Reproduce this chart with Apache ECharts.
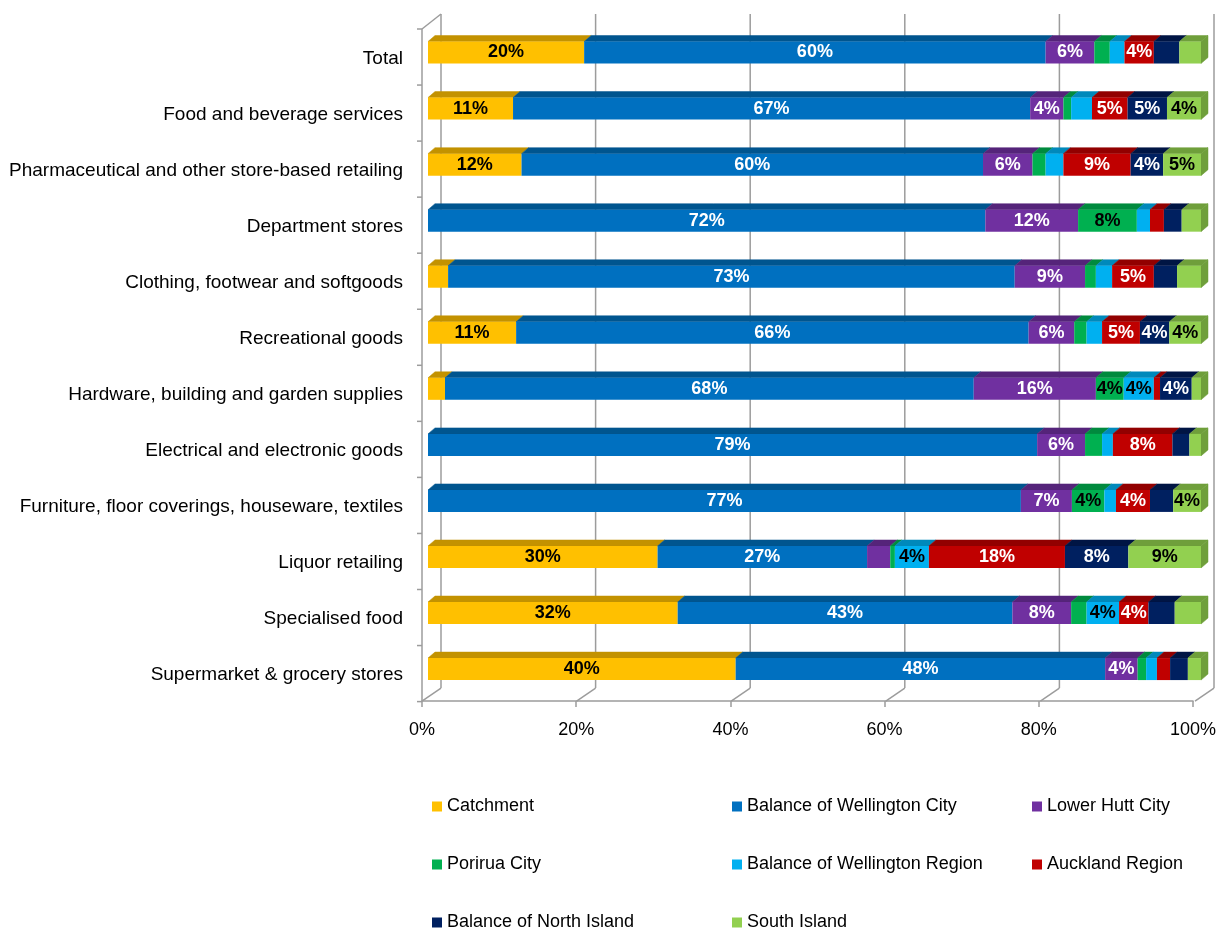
<!DOCTYPE html>
<html><head><meta charset="utf-8">
<script src="https://cdn.jsdelivr.net/npm/echarts@6/dist/echarts.min.js"></script>
<style>html,body{margin:0;padding:0;background:#fff}#c{width:1219px;height:931px}</style>
</head><body><div id="c"></div>
<script>
// ---- data ----
const categories = [
  'Total',
  'Food and beverage services',
  'Pharmaceutical and other store-based retailing',
  'Department stores',
  'Clothing, footwear and softgoods',
  'Recreational goods',
  'Hardware, building and garden supplies',
  'Electrical and electronic goods',
  'Furniture, floor coverings, houseware, textiles',
  'Liquor retailing',
  'Specialised food',
  'Supermarket & grocery stores'
];
const seriesNames = ['Catchment','Balance of Wellington City','Lower Hutt City','Porirua City',
  'Balance of Wellington Region','Auckland Region','Balance of North Island','South Island'];
const catchment        = [20.2, 11.0, 12.1,  0.0,  2.6, 11.4,  2.2,  0.0,  0.0, 29.7, 32.3, 39.8];
const wellingtonCity   = [59.7, 66.9, 59.7, 72.1, 73.3, 66.3, 68.4, 78.8, 76.7, 27.1, 43.3, 47.8];
const lowerHutt        = [ 6.3,  4.3,  6.4, 12.0,  9.1,  5.9, 15.8,  6.2,  6.6,  3.0,  7.6,  4.2];
const porirua          = [ 2.0,  1.0,  1.7,  7.6,  1.4,  1.6,  3.6,  2.2,  4.2,  0.6,  2.0,  1.1];
const wellingtonRegion = [ 1.9,  2.7,  2.3,  1.7,  2.1,  2.0,  3.9,  1.4,  1.5,  4.4,  4.2,  1.4];
const auckland         = [ 3.8,  4.6,  8.7,  1.8,  5.4,  4.9,  0.8,  7.7,  4.4, 17.6,  3.8,  1.7];
const northIsland      = [ 3.3,  5.1,  4.2,  2.3,  3.0,  3.8,  4.1,  2.2,  3.0,  8.2,  3.4,  2.3];
const southIsland      = [ 2.8,  4.4,  4.9,  2.5,  3.1,  4.1,  1.2,  1.5,  3.6,  9.4,  3.4,  1.7];
const xTicks = [0, 20, 40, 60, 80, 100];

// ---- style ----
const colors      = ['#FFC000','#0070C0','#7030A0','#00B050','#00B0F0','#C00000','#002060','#92D050'];
const topColors   = ['#C39200','#00558F','#55247A','#008A3E','#0089BB','#920000','#001544','#6F9F3B'];
const labelColors = ['#000','#fff','#fff','#000','#000','#fff','#fff','#000'];
const FONT = '"Liberation Sans", Arial, sans-serif';
const BAR_H = 22, DX = 7, DY = 6;
const GRID_COLOR = '#9c9c9c';

const seriesValues = [catchment, wellingtonCity, lowerHutt, porirua, wellingtonRegion, auckland, northIsland, southIsland];

const chart = echarts.init(document.getElementById('c'), null, {renderer: 'canvas'});

const barSeries = seriesNames.map((name, k) => ({
  name, type: 'bar', stack: 'total', xAxisIndex: 0, yAxisIndex: 0,
  barWidth: BAR_H, data: seriesValues[k], z: 3,
  itemStyle: {color: colors[k]},
  label: {
    show: true, position: 'inside', color: labelColors[k], fontWeight: 'bold',
    fontSize: 18, fontFamily: FONT, textBorderWidth: 0,
    formatter: p => (p.value >= 3.5 ? Math.round(p.value) + '%' : '')
  },
  emphasis: {disabled: true},
  animation: false
}));

const topSeries = {
  type: 'custom', xAxisIndex: 0, yAxisIndex: 0, z: 2, silent: true, animation: false, clip: false,
  data: categories.map((c, i) => [i]),
  renderItem(params, api) {
    const i = api.value(0);
    const children = [];
    const yc = api.coord([0, i])[1];
    const yTop = yc - BAR_H / 2, yBot = yc + BAR_H / 2;
    let cum = 0, lastK = -1, lastX = 0;
    for (let k = 0; k < seriesValues.length; k++) {
      const v = seriesValues[k][i];
      if (!v) continue;
      const x0 = api.coord([cum, i])[0];
      cum += v;
      const x1 = api.coord([cum, i])[0];
      children.push({type: 'polygon',
        shape: {points: [[x0, yTop], [x1, yTop], [x1 + DX, yTop - DY], [x0 + DX, yTop - DY]]},
        style: {fill: topColors[k], stroke: topColors[k], lineWidth: 0.5}});
      lastK = k; lastX = x1;
    }
    if (lastK >= 0) {
      children.push({type: 'polygon',
        shape: {points: [[lastX, yTop], [lastX + DX, yTop - DY], [lastX + DX, yBot - DY], [lastX, yBot]]},
        style: {fill: topColors[lastK], stroke: topColors[lastK], lineWidth: 0.5}});
    }
    return {type: 'group', children};
  }
};

const frameSeries = {
  type: 'custom', xAxisIndex: 0, yAxisIndex: 0, z: 1, silent: true, animation: false, clip: false,
  data: [[0]],
  renderItem(params, api) {
    const cs = params.coordSys;
    const gTop = cs.y, gBot = cs.y + cs.height;
    const floorY = gBot + 4, frontTop = gTop + 4.5;
    const WX = 19, WY = 13;
    const backTop = frontTop - 15, backBot = floorY - WY;
    const line = (x1, y1, x2, y2) => ({type: 'line', shape: {x1, y1, x2, y2},
      style: {stroke: GRID_COLOR, lineWidth: 1.5}});
    const children = [];
    xTicks.forEach(v => {
      const fx = api.coord([v, 0])[0] - 6;
      const bx = fx + WX;
      children.push(line(bx, backTop, bx, backBot), line(bx, backBot, fx, floorY));
    });
    const fx0 = api.coord([0, 0])[0] - 6;
    children.push(line(fx0, frontTop, fx0, floorY), line(fx0, frontTop, fx0 + WX, backTop));
    const n = categories.length, band = cs.height / n;
    for (let k = 0; k <= n; k++) {
      const y = gTop + k * band + 4.5;
      children.push(line(fx0 - 5, y, fx0, y));
    }
    return {type: 'group', children};
  }
};

chart.setOption({
  backgroundColor: '#fff',
  animation: false,
  legend: {
    data: seriesNames, left: 432, top: 790, width: 880, padding: 0,
    icon: 'rect', itemWidth: 10, itemHeight: 10, itemGap: 25,
    textStyle: {fontSize: 18, fontFamily: FONT, color: '#000', width: 260, height: 33, lineHeight: 33},
    selectedMode: false
  },
  grid: [
    {left: 428, right: 18, top: 24.5, height: 672.6},
    {left: 422, right: 25, top: 700, height: 1}
  ],
  xAxis: [
    {type: 'value', gridIndex: 0, min: 0, max: 100, show: false},
    {type: 'value', gridIndex: 1, min: 0, max: 100, interval: 20,
      axisLine: {show: true, lineStyle: {color: GRID_COLOR, width: 1.5}},
      axisTick: {show: true, length: 6, lineStyle: {color: GRID_COLOR, width: 1.5}},
      splitLine: {show: false},
      axisLabel: {formatter: '{value}%', fontSize: 18, fontFamily: FONT, color: '#000', margin: 20}}
  ],
  yAxis: [
    {type: 'category', gridIndex: 0, data: categories, inverse: true,
      axisLine: {show: false}, axisTick: {show: false}, splitLine: {show: false},
      axisLabel: {
        fontSize: 19, fontFamily: FONT, color: '#000', margin: 25,
        formatter: v => '{a|' + v + '}',
        rich: {a: {fontSize: 19, fontFamily: FONT, color: '#000', padding: [12, 0, 0, 0]}}
      }},
    {type: 'value', gridIndex: 1, show: false}
  ],
  series: [frameSeries, topSeries, ...barSeries]
});
</script>
</body></html>
